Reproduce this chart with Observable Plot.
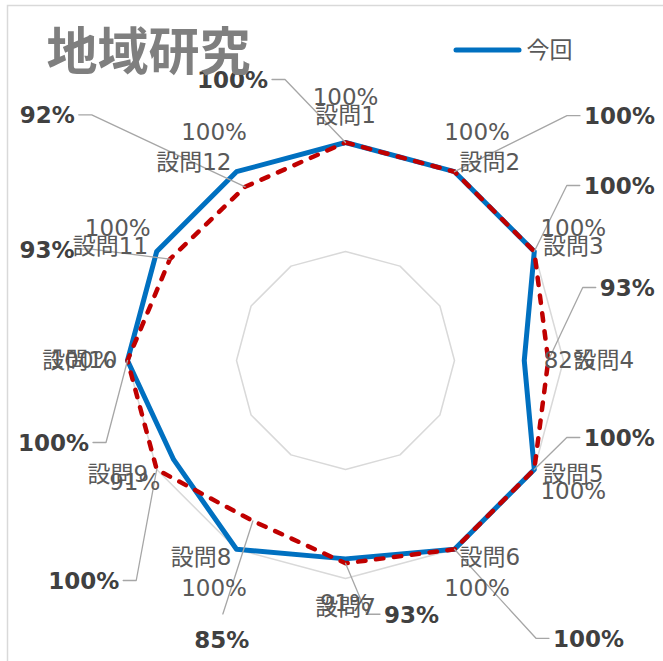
<!DOCTYPE html>
<html><head><meta charset="utf-8">
<script src="https://cdn.jsdelivr.net/npm/d3@7"></script>
<script src="https://cdn.jsdelivr.net/npm/@observablehq/plot@0.6"></script>
<style>html,body{margin:0;padding:0;background:#fff} svg{display:block}</style>
</head><body><div id="chart"></div>
<script>
// ---- data ----
const chartTitle = "地域研究";
const categories = ["設問1","設問2","設問3","設問4","設問5","設問6","設問7","設問8","設問9","設問10","設問11","設問12"];
const seriesNames = ["今回", "前回"];
const currentValues  = [1.00, 1.00, 1.00, 0.82, 1.00, 1.00, 0.91, 1.00, 0.91, 1.00, 1.00, 1.00];
const previousValues = [1.00, 1.00, 1.00, 0.93, 1.00, 1.00, 0.93, 0.85, 1.00, 1.00, 0.93, 0.92];
const gridLevels = [0.5, 1.0];

// ---- layout (pixel offsets of the bold labels from their points) ----
const prevLabelLayout = [
  {dx:-113, dy:-62, side:"L"}, {dx:165, dy:-55, side:"R"}, {dx:85, dy:-65, side:"R"},
  {dx:79, dy:-72, side:"R"},   {dx:85, dy:-31, side:"R"},  {dx:134, dy:90, side:"R"},
  {dx:66, dy:52, side:"R"},    {dx:-31, dy:120, side:"B"}, {dx:-73, dy:112, side:"L"},
  {dx:-74, dy:83, side:"L"},   {dx:-123, dy:-9, side:"L"}, {dx:-198, dy:-71, side:"L"}
];

const W = 663, H = 661, CX = 345, CY = 360, R = 218;
const n = categories.length;
const ang = i => i * 2 * Math.PI / n;
const fmt = d3.format(".0%");
const LATIN = "'DejaVu Sans','Noto Sans CJK JP',sans-serif";
const CJK = "'Noto Sans CJK JP','DejaVu Sans',sans-serif";
const TXT = "#595959";

const toX = p => (p - CX) / R;       // pixel -> data
const toY = p => (CY - p) / R;
const vx = (i, v) => CX + R * v * Math.sin(ang(i));
const vy = (i, v) => CY - R * v * Math.cos(ang(i));

function ring(values, name) {
  const pts = values.map((v, i) => ({i, v, name, x: v * Math.sin(ang(i)), y: v * Math.cos(ang(i))}));
  return pts.concat([pts[0]]);
}
const gridData = gridLevels.flatMap(l => ring(categories.map(() => l), "g" + l));
const curLine = ring(currentValues, seriesNames[0]);
const prevLine = ring(previousValues, seriesNames[1]);

// category labels
const catData = categories.map((c, i) => {
  const a = ang(i);
  const top = (i === 0 || i === n / 2);
  const r = 1 + (top ? 20 : 10) / R;
  return {c, i, x: r * Math.sin(a), y: r * Math.cos(a)};
});
const catMark = (filter, opts) => Plot.text(catData.filter(filter), {
  x: "x", y: "y", text: "c", fontFamily: LATIN, fontSize: 23, fill: TXT, ...opts
});

// value labels for 今回
const curLabels = currentValues.map((v, i) => {
  const r = v + 45 / R;
  return {t: fmt(v), x: r * Math.sin(ang(i)), y: r * Math.cos(ang(i))};
});

// bold labels + leaders for 前回
const BOLD = 23;
const prevLabels = previousValues.map((v, i) => {
  const L = prevLabelLayout[i];
  const px0 = vx(i, v), py0 = vy(i, v);
  const lx = px0 + L.dx, ly = py0 + L.dy;
  return {t: fmt(v), i, v, lx, ly, px0, py0, side: L.side};
});
const leaderData = prevLabels.flatMap(d => {
  const digits = d.t.length - 1;
  const hw = (digits * 0.696 + 1.0) * BOLD / 2;
  let sx, sy, kx;
  if (d.side === "R") { sx = d.lx - hw - 4; sy = d.ly - 1; kx = sx - 13; }
  else if (d.side === "L") { sx = d.lx + hw + 4; sy = d.ly - 1; kx = sx + 13; }
  else { sx = d.lx + 1; sy = d.ly - 27; kx = sx; }
  return [
    {k: d.i, x: toX(sx), y: toY(sy)},
    {k: d.i, x: toX(kx), y: toY(sy)},
    {k: d.i, x: toX(d.px0), y: toY(d.py0)}
  ];
});

const plot = Plot.plot({
  width: W, height: H,
  margin: 0,
  x: {type: "linear", domain: [toX(0), toX(W)], range: [0, W], axis: null},
  y: {type: "linear", domain: [toY(H), toY(0)], range: [H, 0], axis: null},
  style: {background: "#fff", overflow: "visible"},
  marks: [
    Plot.line(gridData, {x: "x", y: "y", z: "name", stroke: "#D9D9D9", strokeWidth: 1.5}),
    Plot.line(curLine, {x: "x", y: "y", stroke: "#0070C0", strokeWidth: 5, strokeLinejoin: "round"}),
    Plot.line(prevLine, {x: "x", y: "y", stroke: "#C00000", strokeWidth: 4.5, strokeDasharray: "7.5,10.5", strokeLinecap: "round", strokeLinejoin: "round"}),
    Plot.line(leaderData, {x: "x", y: "y", z: "k", stroke: "#A6A6A6", strokeWidth: 1.3}),
    catMark(d => d.i === 0, {textAnchor: "middle", lineAnchor: "bottom"}),
    catMark(d => d.i === n / 2, {textAnchor: "middle", lineAnchor: "top"}),
    catMark(d => d.i > 0 && d.i < n / 2, {textAnchor: "start", lineAnchor: "middle"}),
    catMark(d => d.i > n / 2, {textAnchor: "end", lineAnchor: "middle"}),
    Plot.text(curLabels, {x: "x", y: "y", text: "t", fontFamily: LATIN, fontSize: 23, fill: TXT, textAnchor: "middle", lineAnchor: "middle"}),
    Plot.text(prevLabels, {x: d => toX(d.lx), y: d => toY(d.ly), text: "t", fontFamily: LATIN, fontSize: BOLD, fontWeight: "bold", fill: "#404040", textAnchor: "middle", lineAnchor: "middle"}),
    Plot.text([chartTitle], {frameAnchor: "top-left", dx: 46, dy: 53, text: d => d, fontFamily: CJK, fontSize: 51, fontWeight: "bold", fill: "#7F7F7F", textAnchor: "start", lineAnchor: "middle"}),
    Plot.text([seriesNames[0]], {frameAnchor: "top-left", dx: 526, dy: 50, text: d => d, fontFamily: CJK, fontSize: 23, fill: TXT, textAnchor: "start", lineAnchor: "middle"})
  ]
});

const svg = d3.select(plot);
// chart area border (top & left visible)
svg.insert("rect", ":first-child")
  .attr("x", 7.5).attr("y", 5.5).attr("width", 700).attr("height", 700)
  .attr("fill", "none").attr("stroke", "#D9D9D9").attr("stroke-width", 1.5);
// legend swatch
svg.append("line")
  .attr("x1", 456).attr("x2", 519).attr("y1", 50).attr("y2", 50)
  .attr("stroke", "#0070C0").attr("stroke-width", 5).attr("stroke-linecap", "round");

document.getElementById("chart").appendChild(plot);
</script>
</body></html>
